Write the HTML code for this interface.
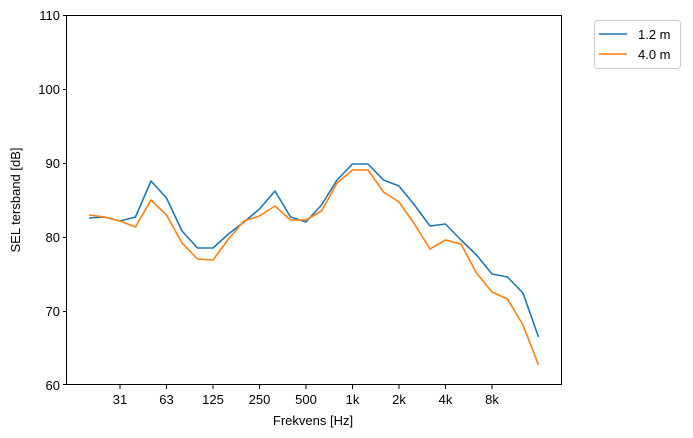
<!DOCTYPE html>
<html><head><style>body{margin:0;background:#fff}svg{display:block;font-family:"Liberation Sans","DejaVu Sans",sans-serif}</style></head><body>
<svg width="693" height="438" viewBox="0 0 693 438">
<rect width="693" height="438" fill="#fff"/>
<g fill="none" stroke-width="1.6" stroke-linejoin="round">
<polyline stroke="#1f77b4" points="89,218 104.5,217 120,221 135.5,217 151,181 166.5,198 182,231 197.5,248 213,248 228.5,234 244,222 259.5,209 275,191 290.5,217 306,222 321.5,205 337,180 352.5,164 368,164 383.5,180 399,186 414.5,205 430,226 445.5,224 461,240 476.5,255 492,274 507.5,277 523,293 538.5,337"/>
<polyline stroke="#ff7f0e" points="89,215 104.5,217 120,221 135.5,227 151,200 166.5,215 182,243 197.5,259 213,260 228.5,239 244,221 259.5,216 275,206 290.5,220 306,220 321.5,211 337,183 352.5,170 368,170 383.5,192 399,202 414.5,224 430,249 445.5,240 461,244 476.5,273 492,292 507.5,299 523,325 538.5,365"/>
</g>
<rect x="66.5" y="15.5" width="495" height="369" fill="none" stroke="#000" stroke-width="1"/>
<g stroke="#000" stroke-width="1">
<line x1="63" y1="15.5" x2="67" y2="15.5"/><line x1="63" y1="89.5" x2="67" y2="89.5"/><line x1="63" y1="163.5" x2="67" y2="163.5"/><line x1="63" y1="237.5" x2="67" y2="237.5"/><line x1="63" y1="311.5" x2="67" y2="311.5"/><line x1="63" y1="384.5" x2="67" y2="384.5"/>
<line x1="120" y1="385" x2="120" y2="389"/><line x1="166.5" y1="385" x2="166.5" y2="389"/><line x1="213" y1="385" x2="213" y2="389"/><line x1="259.5" y1="385" x2="259.5" y2="389"/><line x1="306" y1="385" x2="306" y2="389"/><line x1="352.5" y1="385" x2="352.5" y2="389"/><line x1="399" y1="385" x2="399" y2="389"/><line x1="445.5" y1="385" x2="445.5" y2="389"/><line x1="492" y1="385" x2="492" y2="389"/>
</g>
<g font-size="13" fill="#000" text-anchor="end">
<text x="60" y="20">110</text><text x="60" y="94">100</text><text x="60" y="168">90</text><text x="60" y="242">80</text><text x="60" y="316">70</text><text x="60" y="390">60</text>
</g>
<g font-size="13" fill="#000" text-anchor="middle">
<text x="120" y="404">31</text><text x="166.5" y="404">63</text><text x="213" y="404">125</text><text x="259.5" y="404">250</text><text x="306" y="404">500</text><text x="352.5" y="404">1k</text><text x="399" y="404">2k</text><text x="445.5" y="404">4k</text><text x="492" y="404">8k</text>
<text x="313" y="425">Frekvens [Hz]</text>
<text transform="translate(20,200) rotate(-90)">SEL tersband [dB]</text>
</g>
<rect x="594.5" y="20.5" width="86" height="48" rx="3" fill="#fff" stroke="#ccc"/>
<line x1="599" y1="34" x2="627" y2="34" stroke="#1f77b4" stroke-width="1.6"/>
<line x1="599" y1="54" x2="627" y2="54" stroke="#ff7f0e" stroke-width="1.6"/>
<text x="638" y="39" font-size="13">1.2 m</text>
<text x="638" y="59" font-size="13">4.0 m</text>
</svg>
</body></html>
